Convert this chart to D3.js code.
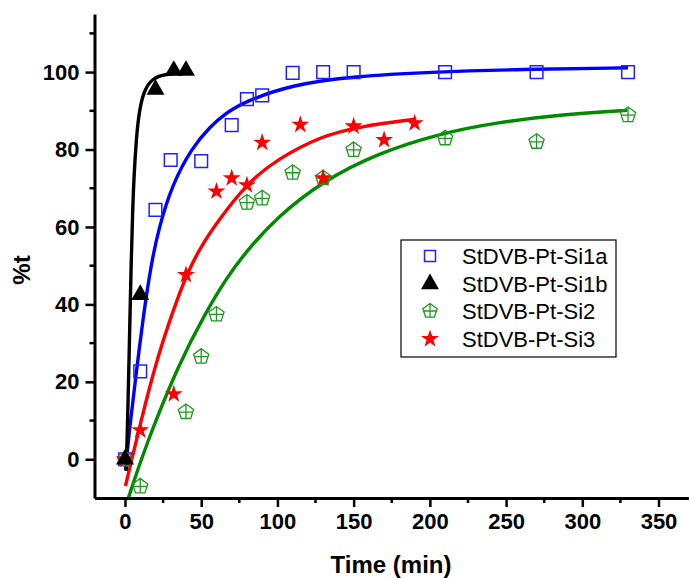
<!DOCTYPE html>
<html>
<head>
<meta charset="utf-8">
<script src="https://cdn.jsdelivr.net/npm/d3@7"></script>
<style>
  body { margin: 0; background: #fff; }
  svg { display: block; }
  text { font-family: "Liberation Sans", Arial, sans-serif; }
</style>
</head>
<body>
<svg id="chart"></svg>
<script>
var seriesNames = ['StDVB-Pt-Si1a', 'StDVB-Pt-Si1b', 'StDVB-Pt-Si2', 'StDVB-Pt-Si3']

var si1aTime = [0, 10, 20, 30, 50, 70, 80, 90, 110, 130, 150, 210, 270, 330]
var si1aConv = [0, 22.7, 64.4, 77.3, 77, 86.3, 93, 94, 99.8, 100, 100, 100, 100, 100]

var si1bTime = [0, 10, 20, 32, 40]
var si1bConv = [0, 42.5, 95.5, 100.4, 100.4]

var si2Time = [0, 10, 40, 50, 60, 80, 90, 110, 130, 150, 210, 270, 330]
var si2Conv = [0, -7, 12.2, 26.5, 37.4, 66.3, 67.4, 74, 72.6, 79.9, 82.9, 82, 88.9]

var si3Time = [0, 10, 32, 40, 60, 70, 80, 90, 115, 130, 150, 170, 190]
var si3Conv = [0, 7.5, 16.8, 47.6, 69.2, 72.6, 70.8, 81.8, 86.4, 72.6, 86, 82.5, 86.8]

// fitted curves
var fit1aTime = [0.3, 3, 7, 12, 17, 22, 31, 44, 56, 66, 78, 110, 150, 200, 260, 330]
var fit1aConv = [-2.8, 8, 21, 37, 50, 59.5, 71, 80.5, 86, 89.3, 92.3, 96.8, 98.9, 100, 100.7, 101.1]

var fit1bTime = [0.8, 2, 3, 4, 5, 6, 7.5, 9, 12, 18, 27, 38]
var fit1bConv = [-3, 14, 32, 50, 64, 74, 83, 89, 95, 98.5, 99.5, 99.8]

var fit2Time = [2.2, 13.4, 35.3, 52.8, 66, 78, 100, 130.4, 165.4, 207, 244, 287.8, 329.5]
var fit2Conv = [-10, 3.4, 24.7, 37.8, 46.4, 53, 62.7, 72, 79, 84.2, 87, 89.1, 90.1]

var fit3Time = [0.3, 9, 20, 31, 40.8, 50, 60, 80, 100, 128, 154.5, 189.5]
var fit3Conv = [-6.9, 7.5, 24.7, 37.8, 48.2, 55, 61, 71.3, 77.5, 83.4, 86, 87.8]

var xTicks = [0, 50, 100, 150, 200, 250, 300, 350]
var xMinor = [25, 75, 125, 175, 225, 275, 325]
var yTicks = [0, 20, 40, 60, 80, 100]
var yMinor = [10, 30, 50, 70, 90, 110]

var width = 689
var height = 578

var xScale = d3.scaleLinear()
              .domain([-20, 370])
              .range([94.5, 689])

var yScale = d3.scaleLinear()
              .domain([-10, 115])
              .range([498, 14])

var svg = d3.select('#chart')
              .attr('width', width)
              .attr('height', height)

svg.append('clipPath')
    .attr('id', 'plot-clip')
  .append('rect')
    .attr('x', 94.5)
    .attr('y', 14)
    .attr('width', 689 - 94.5)
    .attr('height', 498 - 14)

var zip = (ts, vs) => ts.map((t, i) => [t, vs[i]])

var line = d3.line()
              .x(d => xScale(d[0]))
              .y(d => yScale(d[1]))
              .curve(d3.curveBasis)

var fits = [
  { pts: zip(fit1aTime, fit1aConv), color: '#0000ff' },
  { pts: zip(fit2Time, fit2Conv), color: '#008a00' },
  { pts: zip(fit3Time, fit3Conv), color: '#ff0000' },
  { pts: zip(fit1bTime, fit1bConv), color: '#000000' }
]

svg.append('g')
    .attr('clip-path', 'url(#plot-clip)')
  .selectAll('path')
    .data(fits)
    .enter()
    .append('path')
    .attr('d', d => line(d.pts))
    .attr('fill', 'none')
    .attr('stroke', d => d.color)
    .attr('stroke-width', 3.4)

// marker shapes
var squarePath = d3.symbol().type(d3.symbolSquare).size(160)()
var trianglePath = d3.symbol().type(d3.symbolTriangle).size(140)()
var starPath = d3.symbol().type(d3.symbolStar).size(100)()

function pentagonPath(r) {
  var pts = d3.range(5).map(k => {
    var a = -Math.PI / 2 + k * 2 * Math.PI / 5
    return [r * Math.cos(a), r * Math.sin(a)]
  })
  var p = 'M' + pts.map(d => d[0].toFixed(2) + ',' + d[1].toFixed(2)).join('L') + 'Z'
  var hx = 0.85 * r
  p += 'M0,' + (-r) + 'L0,' + (0.809 * r).toFixed(2)
  p += 'M' + (-hx).toFixed(2) + ',0L' + hx.toFixed(2) + ',0'
  return p
}
var pentPath = pentagonPath(8)

var markers = [
  { pts: zip(si1aTime, si1aConv), d: squarePath, fill: 'none', stroke: '#2020ff', sw: 1.5 },
  { pts: zip(si2Time, si2Conv), d: pentPath, fill: 'none', stroke: '#1f9a1f', sw: 1.3 },
  { pts: zip(si3Time, si3Conv), d: starPath, fill: '#ff0000', stroke: 'none', sw: 0 },
  { pts: zip(si1bTime, si1bConv), d: trianglePath, fill: '#000000', stroke: 'none', sw: 0 }
]

markers.forEach(m => {
  svg.append('g')
    .selectAll('path')
      .data(m.pts)
      .enter()
      .append('path')
      .attr('transform', d => 'translate(' + xScale(d[0]) + ',' + yScale(d[1]) + ')')
      .attr('d', m.d)
      .attr('fill', m.fill)
      .attr('stroke', m.stroke)
      .attr('stroke-width', m.sw)
})

// axes
var xAxis = svg.append('g')
    .attr('transform', 'translate(0,' + 498 + ')')
    .call(d3.axisBottom(xScale)
            .tickValues(xTicks)
            .tickSize(9)
            .tickSizeOuter(0)
            .tickPadding(6))

xAxis.selectAll('.minor')
    .data(xMinor)
    .enter()
    .append('line')
    .attr('x1', d => xScale(d))
    .attr('x2', d => xScale(d))
    .attr('y1', 0)
    .attr('y2', 5)
    .attr('stroke', '#000')
    .attr('stroke-width', 2.5)

var yAxis = svg.append('g')
    .attr('transform', 'translate(' + 94.5 + ',0)')
    .call(d3.axisLeft(yScale)
            .tickValues(yTicks)
            .tickSize(9)
            .tickSizeOuter(0)
            .tickPadding(6))

yAxis.selectAll('.minor')
    .data(yMinor)
    .enter()
    .append('line')
    .attr('x1', 0)
    .attr('x2', -5)
    .attr('y1', d => yScale(d))
    .attr('y2', d => yScale(d))
    .attr('stroke', '#000')
    .attr('stroke-width', 2.5)

svg.selectAll('.domain')
    .attr('stroke', '#000')
    .attr('stroke-width', 3)

svg.selectAll('.tick line')
    .attr('stroke', '#000')
    .attr('stroke-width', 2.5)

svg.selectAll('.tick text')
    .style('font-family', '"Liberation Sans", Arial, sans-serif')
    .style('font-size', '22px')
    .style('font-weight', 'bold')
    .attr('fill', '#000')

svg.append('text')
  .attr('x', 391)
  .attr('y', 573)
  .style('text-anchor', 'middle')
  .style('font-size', '24px')
  .style('font-weight', 'bold')
  .text('Time (min)')

svg.append('text')
  .attr('transform', 'rotate(-90)')
  .attr('x', -270)
  .attr('y', 30)
  .style('text-anchor', 'middle')
  .style('font-size', '24px')
  .style('font-weight', 'bold')
  .text('%t')

// legend
var legend = svg.append('g')

legend.append('rect')
  .attr('x', 401)
  .attr('y', 240)
  .attr('width', 215)
  .attr('height', 117)
  .attr('fill', '#fff')
  .attr('stroke', '#000')
  .attr('stroke-width', 1.2)

var legendItems = [
  { name: seriesNames[0], d: d3.symbol().type(d3.symbolSquare).size(120)(), fill: 'none', stroke: '#2020ff', sw: 1.5 },
  { name: seriesNames[1], d: trianglePath, fill: '#000', stroke: 'none', sw: 0 },
  { name: seriesNames[2], d: pentagonPath(7.5), fill: 'none', stroke: '#1f9a1f', sw: 1.3 },
  { name: seriesNames[3], d: starPath, fill: '#ff0000', stroke: 'none', sw: 0 }
]

var rowY = [256, 284, 311, 339]

legendItems.forEach((item, i) => {
  legend.append('path')
    .attr('transform', 'translate(430,' + rowY[i] + ')')
    .attr('d', item.d)
    .attr('fill', item.fill)
    .attr('stroke', item.stroke)
    .attr('stroke-width', item.sw)
  legend.append('text')
    .attr('x', 462)
    .attr('y', rowY[i] + 8)
    .style('font-size', '22px')
    .text(item.name)
})
</script>
</body>
</html>
